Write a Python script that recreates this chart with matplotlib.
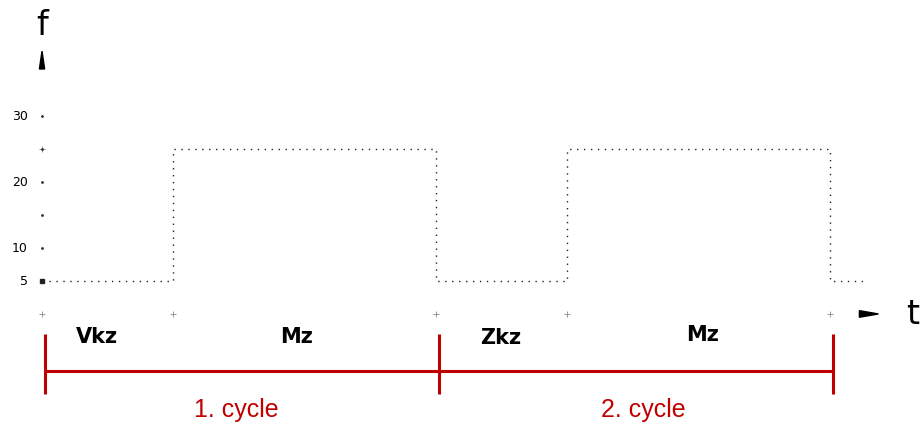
import matplotlib.pyplot as plt
from matplotlib.patches import Polygon

# signal: f over time (phase boundaries)
t_edges = [0, 1, 3, 4, 6, 6.25]
f_vals = [5, 25, 5, 25, 5, 5]
y_ticks = [5, 10, 15, 20, 25, 30]
y_labels = ['5', '10', '', '20', '', '30']
phases = ['Vkz', 'Mz', 'Zkz', 'Mz']
phase_centers = [0.42, 1.94, 3.49, 5.03]
phase_y = [-3.4, -3.4, -3.5, -3.0]
cycle_bounds = [0, 3, 6]
cycles = ['1. cycle', '2. cycle']
cycle_label_x = [1.48, 4.58]
red = '#c00000'

fig = plt.figure(figsize=(9.24, 4.27), dpi=100)
ax = fig.add_axes([0, 0, 1, 1])
ax.set_xlim(-0.32, 6.717)
ax.set_ylim(-16.97, 47.7)
ax.axis('off')

# dotted step curve
ax.step(t_edges, f_vals, where='post', color='#222222', lw=1.0,
        linestyle=(0, (1, 4)))

# little cross marks at the grid points
ax.plot(t_edges[:-1], [0] * 5, '+', color='#888888', ms=5, mew=0.6)
ax.plot([0], [25], '+', color='#888888', ms=5, mew=0.6)

# y ticks: dots plus labels
ax.plot([0] * len(y_ticks), y_ticks, '.', color='#333333', ms=2)
ax.plot([0], [5], 's', color='#222222', ms=2.5)
for v, lab in zip(y_ticks, y_labels):
    if lab:
        ax.text(-0.11, v, lab, ha='right', va='center', fontsize=9,
                family='DejaVu Sans')

# axis arrows and names
ax.add_patch(Polygon([[-0.02, 37.1], [0.02, 37.1], [0, 39.8]],
                     closed=True, color='black'))
ax.text(0, 43.9, 'f', ha='center', va='center', fontsize=24,
        family='DejaVu Sans')
ax.add_patch(Polygon([[6.225, -0.5], [6.225, 0.5], [6.37, 0]],
                     closed=True, color='black'))
ax.text(6.63, 0, 't', ha='center', va='center', fontsize=24,
        family='DejaVu Sans')

# phase names
for name, x, y in zip(phases, phase_centers, phase_y):
    ax.text(x, y, name, ha='center', va='center', fontsize=15,
            fontweight='bold', family='DejaVu Sans')

# cycle brackets
off = 0.025
ax.plot([cycle_bounds[0] + off, cycle_bounds[-1] + off], [-8.6, -8.6],
        color=red, lw=2.2, solid_capstyle='butt')
for b in cycle_bounds:
    ax.plot([b + off, b + off], [-3.0, -12.1], color=red, lw=2.2,
            solid_capstyle='butt')
for x, name in zip(cycle_label_x, cycles):
    ax.text(x, -14.4, name, ha='center', va='center', fontsize=18,
            color=red, family='Liberation Sans')

fig.savefig('out.png', dpi=100)
